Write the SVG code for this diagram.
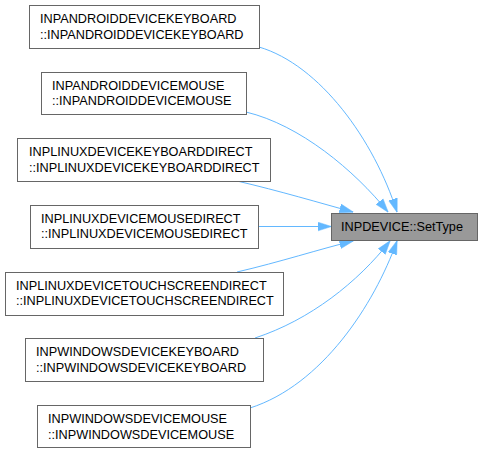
<svg xmlns="http://www.w3.org/2000/svg" width="482" height="453" viewBox="0 0 482 453">
<style>
.box{fill:#ffffff;stroke:#666666;stroke-width:1}
.main{fill:#999999;stroke:#666666;stroke-width:1}
text{font-family:"Liberation Sans",Arial,sans-serif;font-size:12.7px;fill:#000000}
.edge{fill:none;stroke:#63b8ff;stroke-width:1}
</style>
<defs>
<marker id="arr" viewBox="0 0 14 10" refX="13.5" refY="5" markerWidth="14" markerHeight="10" markerUnits="userSpaceOnUse" orient="auto">
<path d="M0,0.5 L14,5 L0,9.5 Z" fill="#63b8ff" stroke="#63b8ff" stroke-width="0.5"/>
</marker>
</defs>
<rect width="482" height="453" fill="#ffffff"/>
<g id="edges">
<path class="edge" marker-end="url(#arr)" d="M259,47 C320,65 374,140 397,212"/>
<path class="edge" marker-end="url(#arr)" d="M246,112 C300,125 354,170 388,212"/>
<path class="edge" marker-end="url(#arr)" d="M237,181 C280,191 320,203 353,212"/>
<path class="edge" marker-end="url(#arr)" d="M258,226.5 L331,226.5"/>
<path class="edge" marker-end="url(#arr)" d="M237,272 C280,262 320,249 353,241"/>
<path class="edge" marker-end="url(#arr)" d="M255,338 C310,320 358,282 390,241"/>
<path class="edge" marker-end="url(#arr)" d="M250,408 C322,385 374,305 397,241"/>
</g>
<g id="n1"><rect class="box" x="29.5" y="5.5" width="230" height="43"/><text x="40" y="23">INPANDROIDDEVICEKEYBOARD</text><text x="40" y="38.5">::INPANDROIDDEVICEKEYBOARD</text></g>
<g id="n2"><rect class="box" x="41.5" y="72.5" width="205" height="42"/><text x="52" y="89.5">INPANDROIDDEVICEMOUSE</text><text x="52" y="105">::INPANDROIDDEVICEMOUSE</text></g>
<g id="n3"><rect class="box" x="17.5" y="138.5" width="253" height="43"/><text x="29" y="156">INPLINUXDEVICEKEYBOARDDIRECT</text><text x="29" y="171.5">::INPLINUXDEVICEKEYBOARDDIRECT</text></g>
<g id="n4"><rect class="box" x="30.5" y="205.5" width="228" height="43"/><text x="41" y="222.5">INPLINUXDEVICEMOUSEDIRECT</text><text x="41" y="238">::INPLINUXDEVICEMOUSEDIRECT</text></g>
<g id="n5"><rect class="box" x="5.5" y="272.5" width="278" height="43"/><text x="16" y="289.5">INPLINUXDEVICETOUCHSCREENDIRECT</text><text x="16" y="305">::INPLINUXDEVICETOUCHSCREENDIRECT</text></g>
<g id="n6"><rect class="box" x="25.5" y="338.5" width="238" height="43"/><text x="36" y="356">INPWINDOWSDEVICEKEYBOARD</text><text x="36" y="371.5">::INPWINDOWSDEVICEKEYBOARD</text></g>
<g id="n7"><rect class="box" x="37.5" y="405.5" width="213" height="42"/><text x="48" y="423">INPWINDOWSDEVICEMOUSE</text><text x="48" y="438.5">::INPWINDOWSDEVICEMOUSE</text></g>
<g id="target"><rect class="main" x="331.5" y="213.5" width="146" height="27"/><text x="341" y="231">INPDEVICE::SetType</text></g>
</svg>
